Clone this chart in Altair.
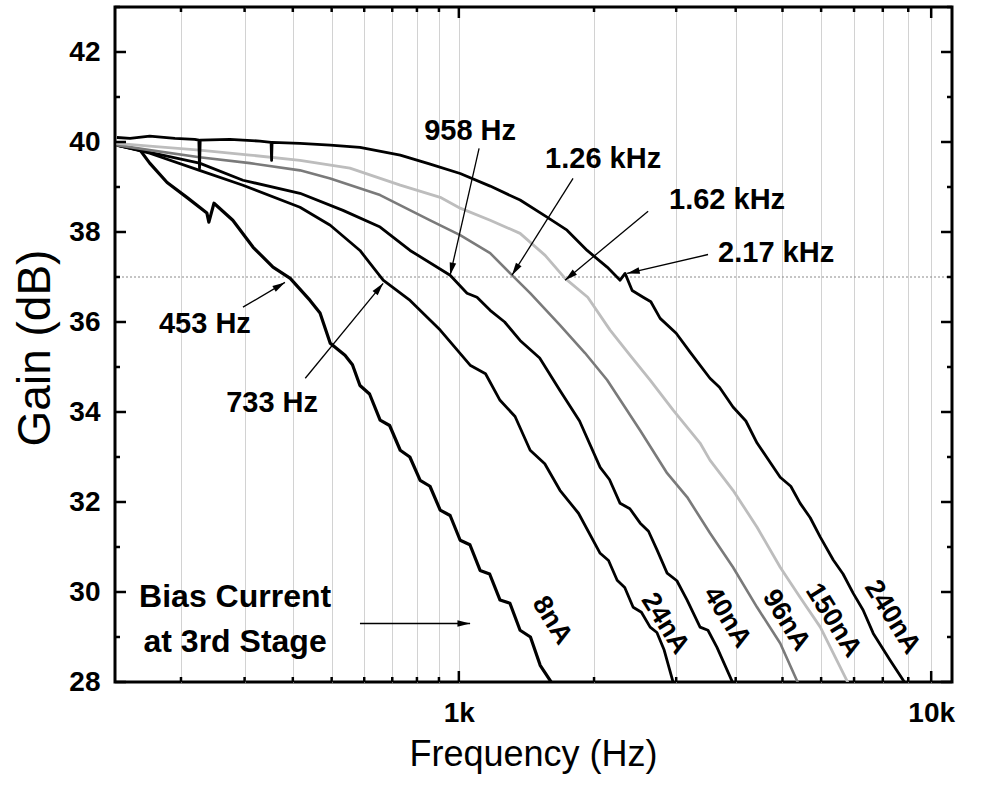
import altair as alt
import numpy as np
import pandas as pd

FONT = "Liberation Sans"

# ---------------- data ----------------
series_names = ["8nA", "24nA", "40nA", "96nA", "150nA", "240nA"]
series_colors = ["#000000", "#000000", "#000000", "#7a7a7a", "#bdbdbd", "#000000"]

f_8 = [125, 150, 161, 182, 208, 237, 240, 248, 279, 316, 356, 394, 442, 468, 496, 539, 562,
       586, 618, 655, 690, 731, 770, 814, 858, 906, 955, 1007, 1060, 1118, 1175, 1240, 1305,
       1375, 1450, 1524, 1619]
g_8 = [39.93, 39.82, 39.53, 39.10, 38.77, 38.42, 38.22, 38.64, 38.26, 37.66, 37.22, 36.97,
       36.48, 36.20, 35.53, 35.26, 35.05, 34.59, 34.40, 33.82, 33.70, 33.15, 33.00, 32.48,
       32.35, 31.82, 31.70, 31.15, 31.05, 30.48, 30.40, 29.82, 29.75, 29.15, 29.00, 28.37,
       27.97]

f_24 = [125, 161, 226, 297, 417, 496, 586, 666, 771, 906, 1061, 1150, 1240, 1340, 1448, 1560,
        1685, 1850, 2062, 2150, 2244, 2330, 2429, 2530, 2641, 2730, 2829, 2960]
g_24 = [39.93, 39.75, 39.37, 39.04, 38.55, 38.15, 37.59, 36.93, 36.48, 35.82, 35.04, 34.85,
        34.26, 33.90, 33.15, 32.85, 32.26, 31.75, 30.86, 30.70, 30.26, 30.10, 29.66, 29.55,
        29.22, 29.10, 28.71, 27.97]

f_40 = [125, 161, 226, 297, 417, 533, 655, 771, 955, 1044, 1100, 1178, 1270, 1375, 1520, 1685,
        1860, 2062, 2160, 2277, 2390, 2515, 2620, 2733, 2870, 3010, 3164, 3369, 3500, 3656, 3949]
g_40 = [39.93, 39.77, 39.53, 39.15, 38.86, 38.48, 38.11, 37.59, 37.04, 36.64, 36.55, 36.26,
        36.00, 35.59, 35.20, 34.48, 33.80, 32.77, 32.50, 31.97, 31.85, 31.53, 31.35, 30.93,
        30.42, 30.25, 29.82, 29.22, 29.15, 28.77, 27.97]

f_96 = [125, 161, 226, 310, 417, 496, 655, 859, 1007, 1178, 1319, 1448, 1685, 1912, 2135,
        2515, 2870, 3164, 3534, 3949, 4431, 4946, 5385]
g_96 = [39.93, 39.82, 39.66, 39.53, 39.37, 39.19, 38.82, 38.26, 37.93, 37.53, 37.04, 36.64,
        35.93, 35.31, 34.71, 33.59, 32.64, 32.11, 31.31, 30.55, 29.66, 28.86, 27.97]

f_150 = [125, 161, 226, 310, 417, 554, 731, 906, 1007, 1178, 1375, 1563, 1729, 1938, 2167,
         2393, 2641, 2956, 3369, 3534, 3949, 4431, 4946, 5437, 5977, 6813]
g_150 = [39.97, 39.91, 39.82, 39.71, 39.59, 39.42, 39.04, 38.77, 38.53, 38.26, 37.97, 37.48,
         36.97, 36.55, 35.82, 35.26, 34.71, 34.04, 33.31, 32.93, 32.26, 31.44, 30.55, 29.88,
         29.22, 27.97]

f_240 = [125, 139, 161, 192, 219, 225, 226, 227, 274, 329, 352, 353, 354, 417, 496, 586, 731,
         859, 1007, 1178, 1375, 1578, 1746, 1932, 2135, 2277, 2334, 2417, 2552, 2650, 2774,
         3000, 3210, 3534, 3700, 3949, 4200, 4431, 4946, 5200, 5437, 5700, 5977, 6352, 6650,
         6974, 7300, 7654, 8282, 8875]
g_240 = [40.10, 40.08, 40.13, 40.08, 40.06, 40.04, 39.42, 40.04, 40.06, 40.02, 39.99, 39.59,
         39.99, 39.97, 39.93, 39.88, 39.71, 39.51, 39.30, 39.02, 38.71, 38.33, 38.04, 37.59,
         37.22, 36.93, 37.08, 36.70, 36.55, 36.45, 36.08, 35.75, 35.33, 34.75, 34.55, 34.11,
         33.80, 33.31, 32.55, 32.35, 31.97, 31.65, 31.22, 30.71, 30.40, 29.97, 29.60, 29.08,
         28.48, 27.97]

series_f = [f_8, f_24, f_40, f_96, f_150, f_240]
series_g = [g_8, g_24, g_40, g_96, g_150, g_240]
series_width = [3.2, 2.8, 2.8, 2.6, 2.8, 2.8]

# curve labels
lab_f = [1619, 2842, 3838, 5088, 6352, 8359]
lab_g = [29.37, 29.30, 29.44, 29.37, 29.37, 29.44]

# -3 dB annotations
ann_text = ["958 Hz", "1.26 kHz", "1.62 kHz", "2.17 kHz", "453 Hz", "733 Hz"]
ann_f = [1061, 2093, 3838, 4852, 234, 354]
ann_g = [40.24, 39.62, 38.71, 37.53, 35.95, 34.19]

bias_text = ["Bias Current", "at 3rd Stage"]
bias_f = [283, 283]
bias_g = [29.88, 28.88]

# arrows: start -> tip
arrow_f0 = [297, 430, 1112, 1800, 2615, 3501, 586]
arrow_g0 = [36.33, 34.75, 39.86, 39.19, 38.46, 37.50, 29.30]
arrow_f1 = [382, 666, 955, 1319, 1729, 2357, 1061]
arrow_g1 = [36.88, 36.86, 37.04, 37.04, 36.93, 37.08, 29.30]

ref_gain = [37]

minor_f = [200, 300, 400, 500, 600, 700, 800, 900, 2000, 3000, 4000, 5000, 6000, 7000, 8000, 9000]
major_f = [1000, 10000]
y_major = list(range(28, 43, 2))
y_minor = list(range(29, 44, 2))

F_MIN, F_MAX = 123, 11000
G_MIN, G_MAX = 28, 43
EXP = 1.2
W, H = 837, 675
MAJ, MIN = 11, 5


def lf(f):
    return float(np.log10(f) - 2)


v0, v1 = lf(F_MIN), lf(F_MAX)
x_minor = [lf(f) for f in minor_f]
x_major = [lf(f) for f in major_f]
x_all = sorted(x_minor + x_major)

xscale = alt.Scale(type="pow", exponent=EXP, domain=[v0, v1], zero=False, nice=False)
yscale = alt.Scale(domain=[G_MIN, G_MAX], zero=False, nice=False)

# ---------------- tables ----------------
rows = []
for name, fs, gs, sw in zip(series_names, series_f, series_g, series_width):
    for f, g in zip(fs, gs):
        rows.append({"series": name, "v": lf(f), "g": g, "sw": sw})
df_lines = pd.DataFrame(rows)

df_lab = pd.DataFrame({"t": series_names, "v": [lf(f) for f in lab_f], "g": lab_g})
df_ann = pd.DataFrame({"t": ann_text, "v": [lf(f) for f in ann_f], "g": ann_g})
df_bias = pd.DataFrame({"t": bias_text, "v": [lf(f) for f in bias_f], "g": bias_g})


def sx(v):
    return W * (v ** EXP - v0 ** EXP) / (v1 ** EXP - v0 ** EXP)


def sy(g):
    return H * (G_MAX - g) / (G_MAX - G_MIN)


arows = []
for a, b, c, d in zip(arrow_f0, arrow_g0, arrow_f1, arrow_g1):
    va, vc = lf(a), lf(c)
    dx = sx(vc) - sx(va)
    dy = sy(d) - sy(b)
    ang = float(np.degrees(np.arctan2(dx, -dy)) % 360)
    arows.append({"v0": va, "g0": b, "v1": vc, "g1": d, "ang": ang})
df_arr = pd.DataFrame(arows)
df_ref = pd.DataFrame({"g": ref_gain})

# ---------------- axes ----------------
x_label_axis = alt.Axis(
    orient="bottom", values=x_all,
    labelExpr="abs(datum.value-1)<1e-6 ? '1k' : (abs(datum.value-2)<1e-6 ? '10k' : '')",
    ticks=False, domain=False, grid=True, gridColor="#d2d2d2", gridWidth=1,
    labelFont=FONT, labelFontSize=28, labelFontWeight="bold", labelColor="black",
    labelPadding=17, labelOverlap=False, labelFlush=False,
    title="Frequency (Hz)", titleFont=FONT, titleFontSize=36, titleFontWeight="normal",
    titleColor="black", titleX=418, titleY=72, titleAlign="center", titleBaseline="middle",
)
y_label_axis = alt.Axis(
    orient="left", values=y_major, ticks=False, domain=False, grid=False,
    labelFont=FONT, labelFontSize=28, labelFontWeight="bold", labelColor="black",
    labelPadding=15, labelOverlap=False, labelFlush=False,
    title="Gain (dB)", titleFont=FONT, titleFontSize=46, titleFontWeight="normal",
    titleColor="black", titleX=-80, titleY=H / 2 + 3, titleAngle=270, titleAlign="center",
    titleBaseline="middle",
)


# ---------------- inward tick marks (drawn from the tick value arrays) ----------------
def x_ticks(vals, length):
    d = pd.DataFrame({"v": vals})
    base = alt.Chart(d).mark_rule(color="black", strokeWidth=2.5)
    bottom = base.encode(x=alt.X("v:Q", scale=xscale, axis=None),
                         y=alt.value(H), y2=alt.value(H - length))
    top = base.encode(x=alt.X("v:Q", scale=xscale, axis=None),
                      y=alt.value(0), y2=alt.value(length))
    return [bottom, top]


def y_ticks(vals, length):
    d = pd.DataFrame({"g": vals})
    base = alt.Chart(d).mark_rule(color="black", strokeWidth=2.5)
    left = base.encode(y=alt.Y("g:Q", scale=yscale, axis=None),
                       x=alt.value(0), x2=alt.value(length))
    right = base.encode(y=alt.Y("g:Q", scale=yscale, axis=None),
                        x=alt.value(W - length), x2=alt.value(W))
    return [left, right]


tick_layers = (x_ticks(x_major, MAJ) + x_ticks(x_minor, MIN)
               + y_ticks(y_major, MAJ) + y_ticks(y_minor, MIN))

# ---------------- layers ----------------
ref_rule = alt.Chart(df_ref).mark_rule(color="#8a8a8a", strokeDash=[2, 2], strokeWidth=1).encode(
    y=alt.Y("g:Q", scale=yscale, axis=None)
)

lines = alt.Chart(df_lines).mark_line(clip=True, strokeJoin="round").encode(
    x=alt.X("v:Q", scale=xscale, axis=x_label_axis),
    y=alt.Y("g:Q", scale=yscale, axis=y_label_axis),
    color=alt.Color("series:N", scale=alt.Scale(domain=series_names, range=series_colors),
                    legend=None),
    strokeWidth=alt.StrokeWidth("sw:Q", scale=None),
    detail="series:N",
)

arrow_lines = alt.Chart(df_arr).mark_rule(color="black", strokeWidth=1.3).encode(
    x=alt.X("v0:Q", scale=xscale, axis=None),
    x2="v1:Q",
    y=alt.Y("g0:Q", scale=yscale, axis=None),
    y2="g1:Q",
)

arrow_heads = alt.Chart(df_arr).mark_point(
    shape="M0,0L-0.42,1.6L0.42,1.6Z", filled=True, size=250, color="black", opacity=1,
    strokeWidth=0,
).encode(
    x=alt.X("v1:Q", scale=xscale, axis=None),
    y=alt.Y("g1:Q", scale=yscale, axis=None),
    angle=alt.Angle("ang:Q", scale=None),
)

curve_labels = alt.Chart(df_lab).mark_text(
    angle=58, font=FONT, fontSize=27, fontWeight="bold", align="center", baseline="middle",
    color="black",
).encode(
    x=alt.X("v:Q", scale=xscale, axis=None),
    y=alt.Y("g:Q", scale=yscale, axis=None),
    text="t:N",
)

ann = alt.Chart(df_ann).mark_text(
    font=FONT, fontSize=29, fontWeight="bold", align="center", baseline="middle", color="black"
).encode(
    x=alt.X("v:Q", scale=xscale, axis=None),
    y=alt.Y("g:Q", scale=yscale, axis=None),
    text="t:N",
)

bias = alt.Chart(df_bias).mark_text(
    font=FONT, fontSize=32, fontWeight="bold", align="center", baseline="middle", color="black"
).encode(
    x=alt.X("v:Q", scale=xscale, axis=None),
    y=alt.Y("g:Q", scale=yscale, axis=None),
    text="t:N",
)

chart = alt.layer(
    ref_rule, lines, *tick_layers, arrow_lines, arrow_heads, curve_labels, ann, bias
).resolve_axis(
    x="independent", y="independent"
).properties(
    width=W, height=H,
    padding={"left": 115, "top": 7, "right": 30, "bottom": 109},
    autosize=alt.AutoSizeParams(type="none"),
    background="white",
).configure_view(
    stroke="black", strokeWidth=3
)

chart.save("out.html", embed_options={"renderer": "svg", "actions": False})
